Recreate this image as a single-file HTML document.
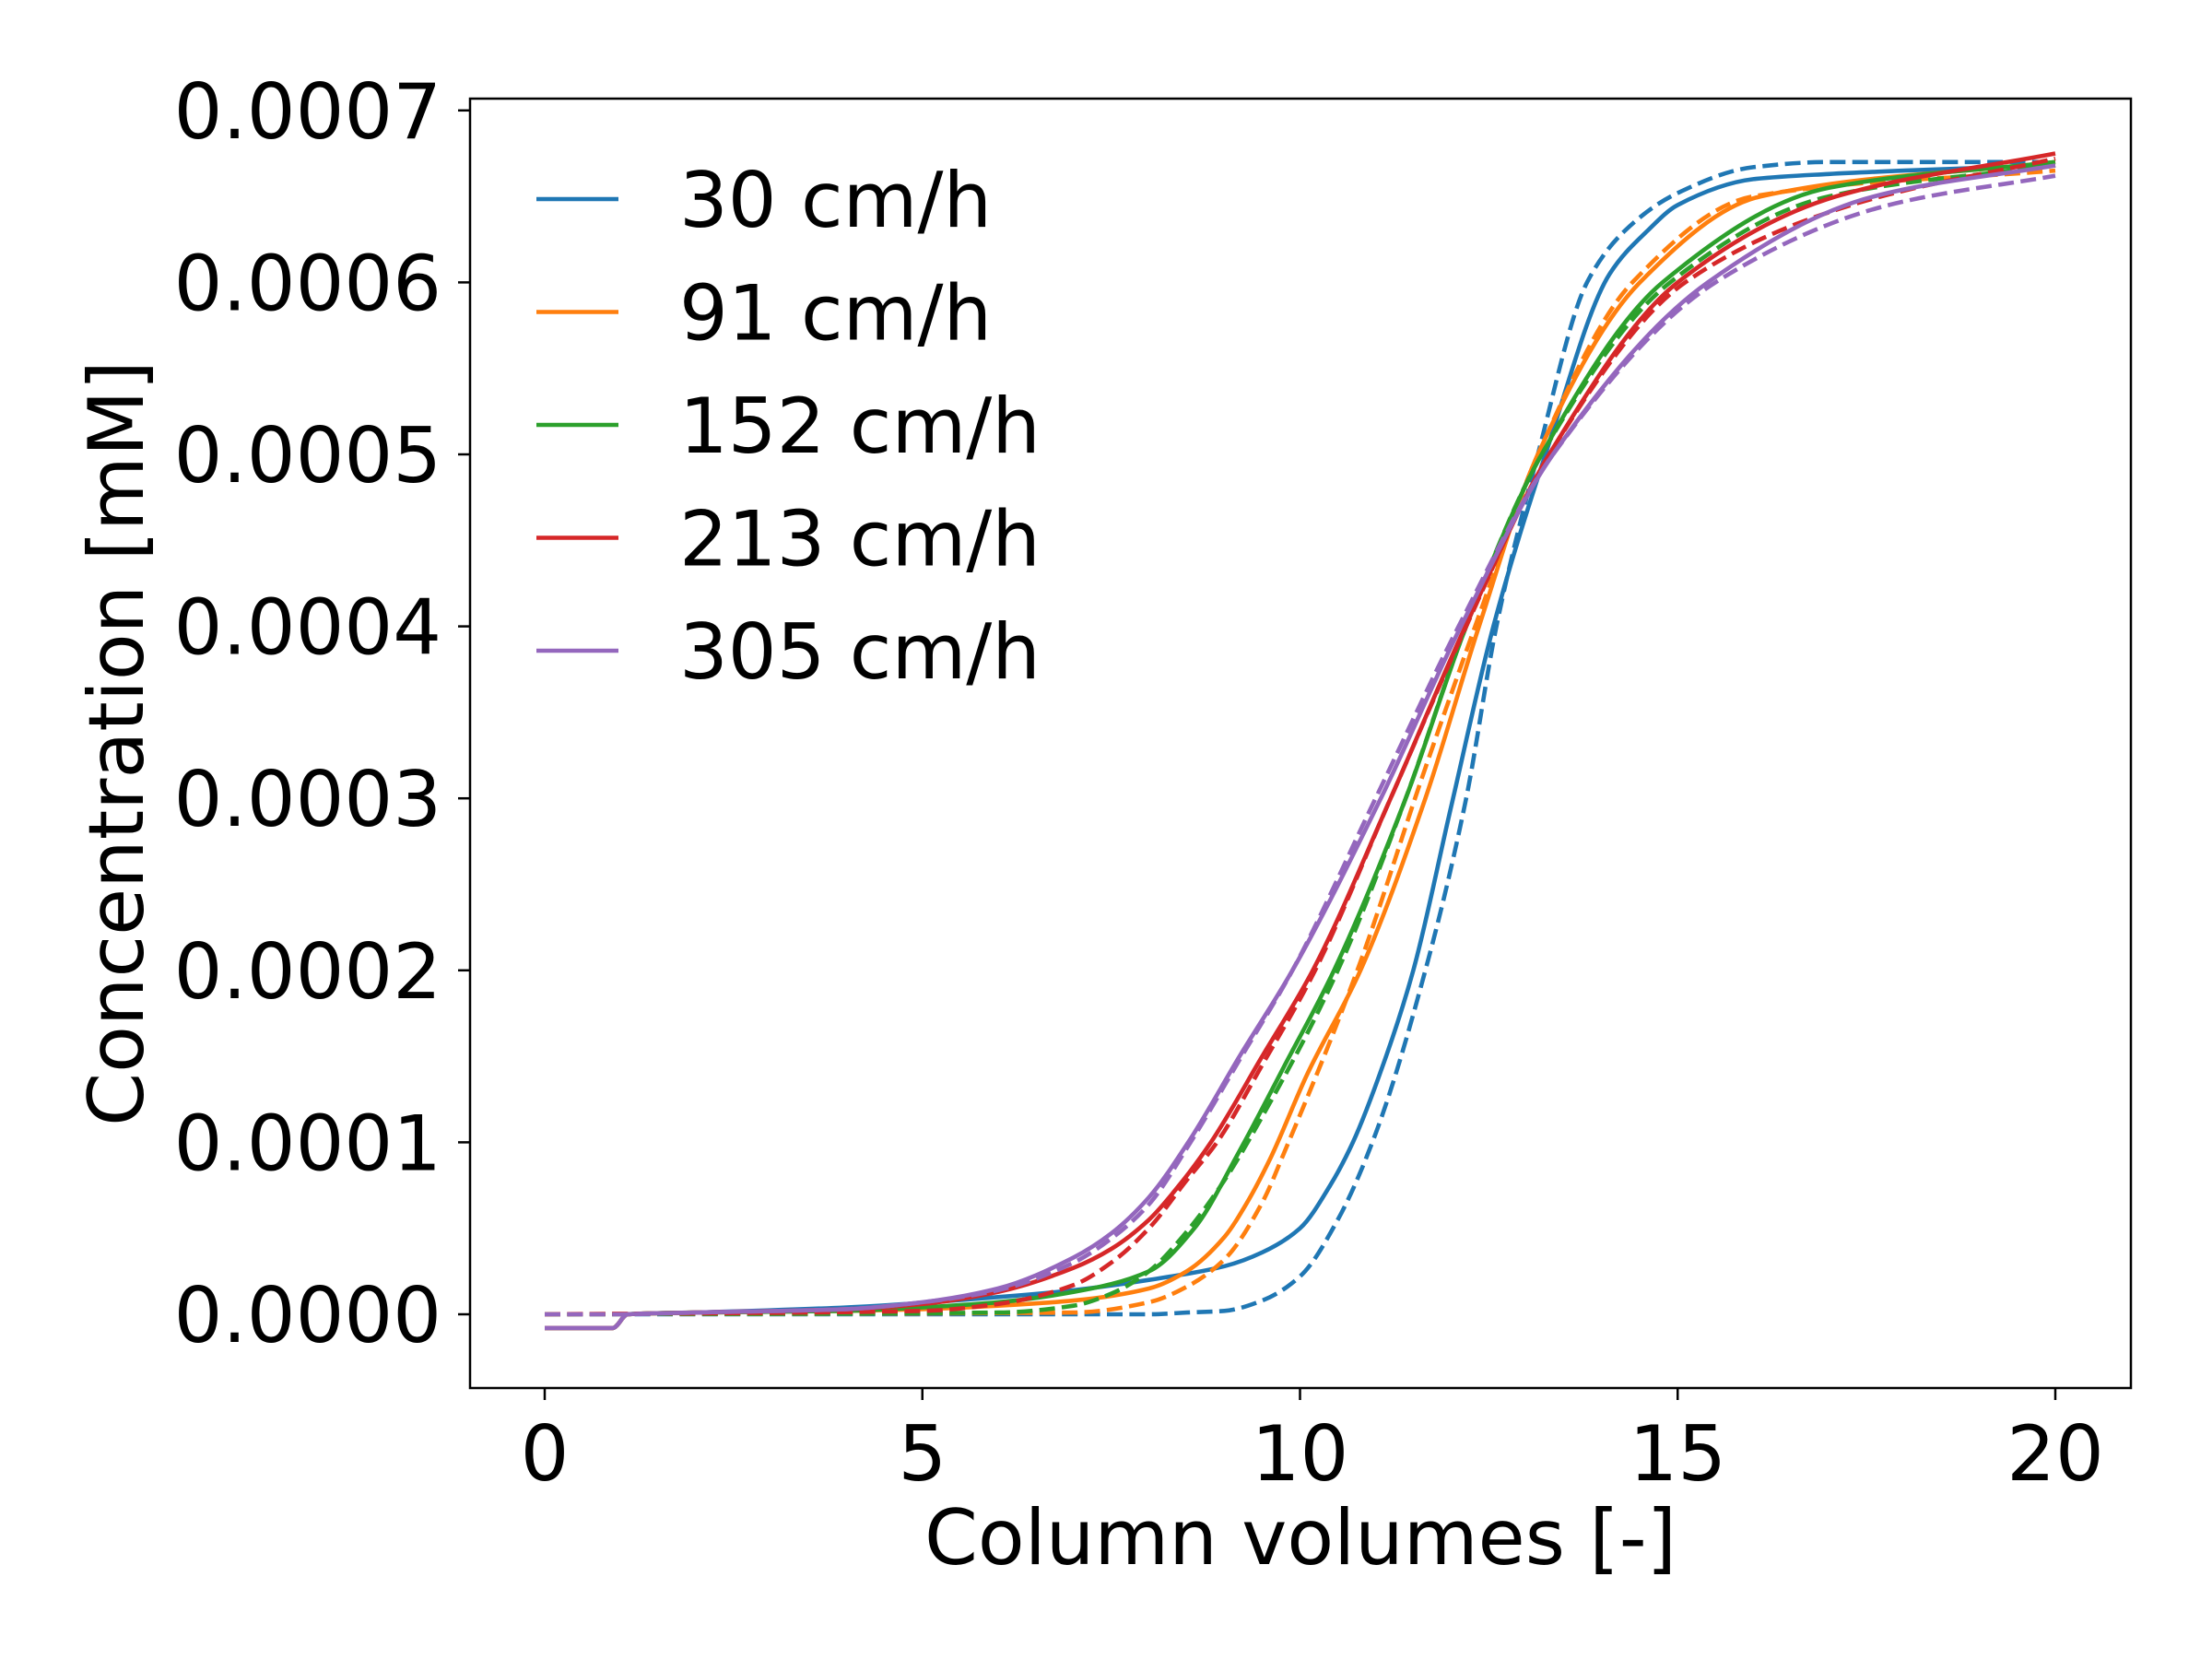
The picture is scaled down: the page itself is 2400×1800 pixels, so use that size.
<!DOCTYPE html>
<html><head><meta charset="utf-8"><style>
html,body{margin:0;padding:0;background:#fff;}
svg{display:block;font-family:"DejaVu Sans","Liberation Sans",sans-serif;}
</style></head><body>
<svg id="chart" width="2400" height="1800" viewBox="0 0 2400 1800" xmlns="http://www.w3.org/2000/svg">
<rect width="2400" height="1800" fill="#fff"/>
<g id="plot"></g>
<g id="axes"></g>
<g id="legend"></g>
</svg>
<script>
const xTicks = [0, 5, 10, 15, 20];
const yTicks = [0, 1, 2, 3, 4, 5, 6, 7];
const yTickLabels = ["0.0000","0.0001","0.0002","0.0003","0.0004","0.0005","0.0006","0.0007"];
const seriesNames = ["30 cm/h","91 cm/h","152 cm/h","213 cm/h","305 cm/h"];
const seriesColors = ["#1f77b4","#ff7f0e","#2ca02c","#d62728","#9467bd"];
// values in units of 1e-4 mM
const blueX = [0,0.9,1.1,2,4,6,7,8,9,9.5,10,10.4,10.7,11.1,11.5,12,12.56,13.25,14.1,14.6,15,16,17,18,20];
const blueY = [-0.08,-0.08,0,0.01,0.04,0.1,0.14,0.2,0.28,0.36,0.5,0.75,1.0,1.45,2.0,2.95,4.0,5.0,6.05,6.3,6.45,6.6,6.63,6.65,6.68];
const blueDX = [0,8,8.5,9,9.5,10,10.5,11,11.66,12.2,12.6,13.15,13.8,14.3,15,16,17,20];
const blueDY = [0,0,0.01,0.02,0.08,0.22,0.55,1.05,2.0,3.0,4.0,5.0,6.0,6.3,6.52,6.67,6.70,6.70];
const orangeX = [0,0.9,1.1,2,4,5,6,7,8,8.5,9,9.3,9.6,10.1,10.8,11.66,12.37,13.15,14.5,16.1,20];
const orangeY = [-0.08,-0.08,0,0.01,0.02,0.03,0.05,0.08,0.15,0.25,0.45,0.65,0.9,1.4,2.0,3.0,4.0,5.0,6.0,6.5,6.7];
const orangeDX = [0,7,8,8.5,9,9.5,9.8,10.8,11.6,12.4,13.15,14.4,16,20];
const orangeDY = [0,0.01,0.07,0.16,0.32,0.65,0.95,2.05,3.1,4.1,5.0,6.0,6.5,6.65];
const greenX = [0,0.9,1.1,2,4,5,6,7,8,8.6,9.2,9.8,10.45,11.4,12.2,13.2,14.8,17,20];
const greenY = [-0.08,-0.08,0,0.01,0.02,0.04,0.07,0.13,0.25,0.5,0.95,1.45,2.0,3.0,4.0,5.0,6.0,6.55,6.7];
const greenDX = [0,6,7,7.5,8,8.5,9,9.5,10.5,11.4,12.2,13.2,14.9,17,20];
const greenDY = [0,0.01,0.05,0.12,0.25,0.48,0.78,1.15,2.0,3.0,4.0,5.0,6.0,6.5,6.68];
const redX = [0,0.9,1.1,2,4,5,6,7,7.5,8,8.4,8.82,9.5,10.17,11.2,12.19,13.3,15.0,17.1,20];
const redY = [-0.08,-0.08,0,0.01,0.03,0.06,0.13,0.27,0.38,0.55,0.75,1.0,1.5,2.0,3.0,4.0,5.0,6.0,6.5,6.75];
const redDX = [0,5,6,7,7.5,8,8.5,8.9,9.5,10.2,11.2,12.2,13.3,15.1,17.3,20];
const redDY = [0,0.02,0.06,0.17,0.3,0.5,0.78,1.0,1.45,2.0,3.0,4.0,5.0,6.0,6.45,6.72];
const purpleX = [0,0.9,1.1,2,4,5,6,7,7.5,8,8.52,9.2,9.9,11.07,12.13,13.35,15.4,17.6,20];
const purpleY = [-0.08,-0.08,0,0.01,0.03,0.07,0.15,0.33,0.47,0.68,1.0,1.5,2.0,3.0,4.0,5.0,6.0,6.5,6.68];
const purpleDX = [0,1,2,4,5,6,7,7.5,8,8.55,9.2,9.9,11.0,12.1,13.35,15.5,17.8,20];
const purpleDY = [0,0,0.01,0.03,0.07,0.14,0.3,0.44,0.64,1.0,1.48,2.0,3.0,4.0,5.0,6.0,6.45,6.62];

const L=510,R=2312,T=107,B=1506;
const X0=591,XS=81.95,Y0=1426,YS=186.6;
function sx(v){return X0+v*XS;}
function sy(v){return Y0-v*YS;}
const NS="http://www.w3.org/2000/svg";
function mk(tag,attrs,parent){const e=document.createElementNS(NS,tag);for(const k in attrs)e.setAttribute(k,attrs[k]);parent.appendChild(e);return e;}
function pathFrom(xs,ys){
  const px=xs.map(sx), py=ys.map(sy), n=px.length;
  const d=[],m=new Array(n);
  for(let i=0;i<n-1;i++) d.push((py[i+1]-py[i])/(px[i+1]-px[i]));
  m[0]=d[0]; m[n-1]=d[n-2];
  for(let i=1;i<n-1;i++){
    if(d[i-1]*d[i]<=0) m[i]=0;
    else { const h0=px[i]-px[i-1],h1=px[i+1]-px[i];
      const w1=2*h1+h0,w2=h1+2*h0; m[i]=(w1+w2)/(w1/d[i-1]+w2/d[i]); }
  }
  let s="M"+px[0].toFixed(1)+","+py[0].toFixed(1);
  for(let i=0;i<n-1;i++){
    const h=(px[i+1]-px[i])/3;
    s+=" C"+(px[i]+h).toFixed(1)+","+(py[i]+m[i]*h).toFixed(1)+" "+(px[i+1]-h).toFixed(1)+","+(py[i+1]-m[i+1]*h).toFixed(1)+" "+px[i+1].toFixed(1)+","+py[i+1].toFixed(1);
  }
  return s;
}
const plot=document.getElementById('plot');
const axes=document.getElementById('axes');
const legend=document.getElementById('legend');
const cp=mk('clipPath',{id:'clip'},plot);mk('rect',{x:L,y:T,width:R-L,height:B-T},cp);
const solids=[[blueX,blueY],[orangeX,orangeY],[greenX,greenY],[redX,redY],[purpleX,purpleY]];
const dashes=[[blueDX,blueDY],[orangeDX,orangeDY],[greenDX,greenDY],[redDX,redDY],[purpleDX,purpleDY]];
const keys=["30","91","152","213","305"];
for(let i=0;i<5;i++){
  const s=mk('path',{d:pathFrom(solids[i][0],solids[i][1]),fill:'none',stroke:seriesColors[i],'stroke-width':4.6,'clip-path':'url(#clip)'},plot);
  
  
  const d=mk('path',{d:pathFrom(dashes[i][0],dashes[i][1]),fill:'none',stroke:seriesColors[i],'stroke-width':4.6,'stroke-dasharray':'17,7.4','clip-path':'url(#clip)'},plot);
  
  
}
const frame=mk('rect',{x:L,y:T,width:R-L,height:B-T,fill:'none',stroke:'#000','stroke-width':2.5},axes);


xTicks.forEach(v=>{
  const x=sx(v);
  const t=mk('line',{x1:x,x2:x,y1:B,y2:B+13,stroke:'#000','stroke-width':2.5},axes);
  
  
  const tx=mk('text',{x:x,y:B+100,'font-size':83,'text-anchor':'middle',fill:'#000'},axes);
  tx.textContent=String(v);
  
  
});
yTicks.forEach((v,i)=>{
  const y=sy(v);
  const t=mk('line',{x1:L-13,x2:L,y1:y,y2:y,stroke:'#000','stroke-width':2.5},axes);
  
  
  const tx=mk('text',{x:L-31,y:y+30,'font-size':83,'text-anchor':'end',fill:'#000'},axes);
  tx.textContent=yTickLabels[i];
  
  
});
const xl=mk('text',{x:(L+R)/2,y:1697,'font-size':83,'text-anchor':'middle',fill:'#000'},axes);
xl.textContent='Column volumes [-]';


const yl=mk('text',{x:0,y:0,'font-size':83,'text-anchor':'middle',fill:'#000',transform:'translate(155,'+((T+B)/2)+') rotate(-90)'},axes);
yl.textContent='Concentration [mM]';


for(let i=0;i<5;i++){
  const y=216+i*122.5;
  const g=mk('g',{},legend);
  
  
  mk('line',{x1:582,x2:671,y1:y,y2:y,stroke:seriesColors[i],'stroke-width':4.6},g);
  const t=mk('text',{x:737,y:y+30,'font-size':83,fill:'#000'},g);
  t.textContent=seriesNames[i];
}
</script>
</body></html>
